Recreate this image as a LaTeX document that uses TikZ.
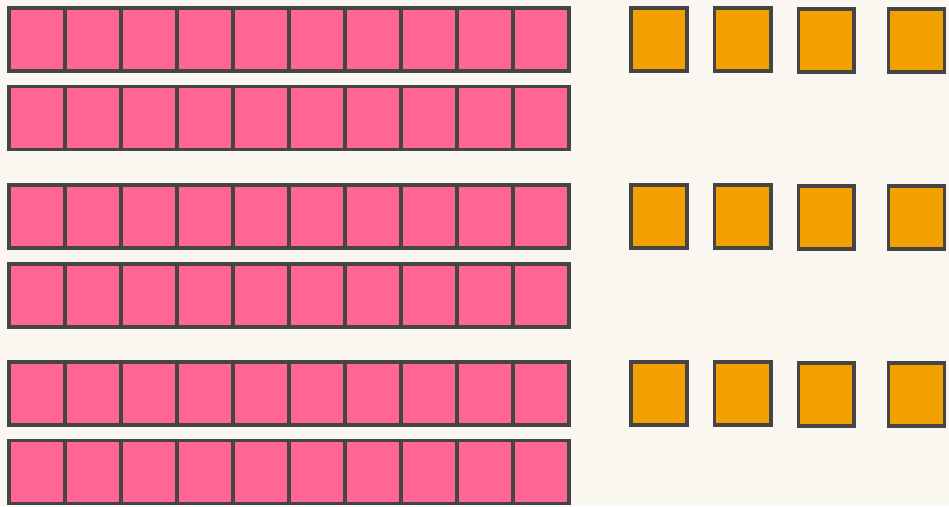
\documentclass[tikz,border=0pt]{standalone}
\definecolor{bg}{HTML}{FAF6F0}
\definecolor{pinkc}{HTML}{FF6695}
\definecolor{orangec}{HTML}{F2A100}
\definecolor{edge}{HTML}{454545}
\tikzset{
  cellbox/.style={fill=pinkc, draw=edge, line width=3.5pt},
  barframe/.style={draw=edge, line width=3.5pt},
  orangebox/.style={fill=orangec, draw=edge, line width=3.5pt},
}
\begin{document}
\begin{tikzpicture}[x=1pt,y=-1pt]
\fill[bg] (0,0) rectangle (949,506);
\useasboundingbox (0,0) rectangle (949,506);
% pink bars
\foreach \top in {8,86.5,185,264,362,440.5}{
  \foreach \i in {0,...,9}{
    \path[cellbox] ({9+56*\i},\top) rectangle ({9+56*(\i+1)},{\top+63});
  }
}
% orange squares
\foreach \top/\dy in {8/0,185/0,362/0}{
  \path[orangebox] (631,\top) rectangle (687,{\top+63});
  \path[orangebox] (714.5,\top) rectangle (771,{\top+63});
  \path[orangebox] (798.5,{\top+1.2}) rectangle (854,{\top+64.2});
  \path[orangebox] (888.5,{\top+1.2}) rectangle (944.5,{\top+64.2});
}
\end{tikzpicture}
\end{document}
